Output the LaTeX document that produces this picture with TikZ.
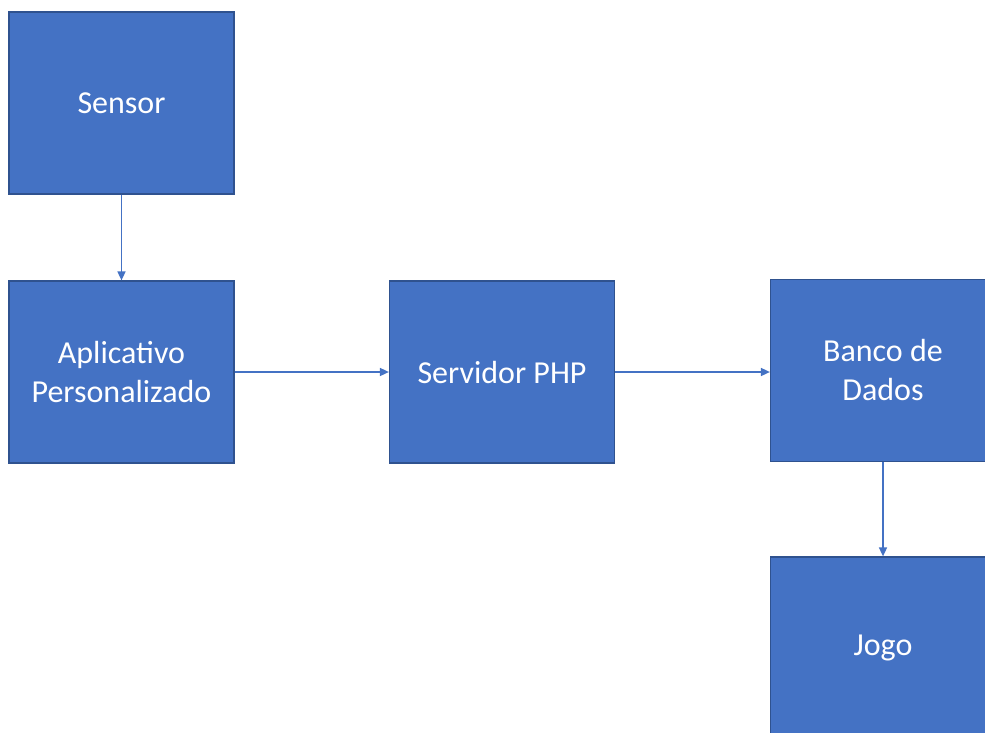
\documentclass[tikz,border=0pt]{standalone}
\usepackage{fontspec}
\setmainfont{Carlito}
\usepackage{tikz}
\usetikzlibrary{arrows.meta}
\definecolor{boxfill}{HTML}{4472C4}
\definecolor{boxline}{HTML}{2F528F}
\tikzstyle{block}=[rectangle,fill=boxfill,draw=boxline,line width=1.2pt,text=white,
  minimum width=225pt,minimum height=182pt,inner sep=0pt,align=center,
  font=\fontsize{32}{39}\selectfont]
\tikzstyle{edge} = [draw=boxfill,line width=1.6pt,-{Triangle[length=9pt,width=8pt]}]

\begin{document}
\begin{tikzpicture}[x=1pt,y=-1pt]

  \useasboundingbox (0,0) rectangle (985,733);
  \clip (0,0) rectangle (985,733);
  \fill[white] (0,0) rectangle (985,733);

  \node[block] (sensor) at (121.5,103) {Sensor};
  \node[block] (app) at (121.5,372) {Aplicativo\\Personalizado};
  \node[block] (php) at (502,372) {Servidor PHP};
  \node[block] (db) at (883,370.5) {Banco de\\Dados};
  \node[block] (jogo) at (883,648) {Jogo};

  %fluxo
  \draw[edge] (sensor) -- (app);
  \draw[edge] (app) -- (php);
  \draw[edge] (php.east) -- (php.east -| db.west);
  \draw[edge] (db) -- (jogo);

\end{tikzpicture}
\end{document}
